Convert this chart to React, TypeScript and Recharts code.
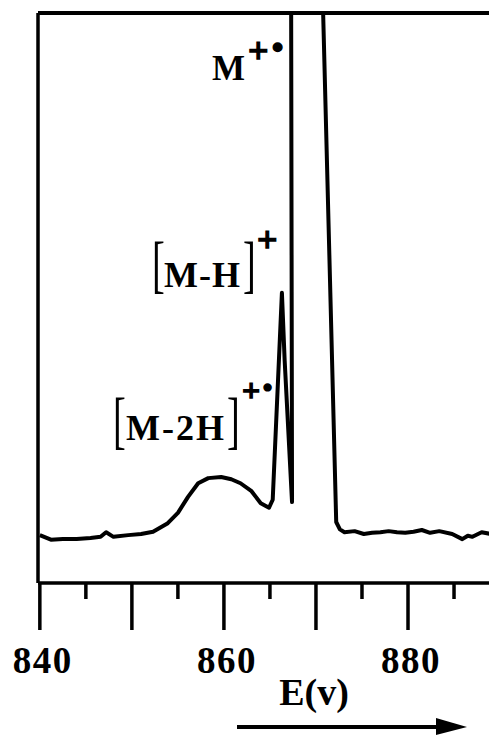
import React from 'react';
import { LineChart, Line, XAxis, YAxis, ReferenceLine } from 'recharts';

// energy (V) and relative intensity; M peak is clipped at the top
const energy = [
  840.0, 841.2, 842.5, 844.0, 845.5, 846.6, 847.2, 848.0, 849.6, 851.0,
  852.3, 853.9, 855.0, 856.1, 857.2, 858.3, 859.7, 860.8, 861.8, 863.0,
  864.0, 864.9, 865.3, 866.3, 866.6, 867.4, 867.3, 870.7, 872.2, 872.6,
  873.1, 874.2, 875.2, 876.1, 877.0, 877.9, 878.8, 879.7, 880.6, 881.5,
  882.4, 883.4, 884.8, 885.9, 886.5, 887.0, 888.0, 889.0,
];
const intensity = [
  8.4, 7.6, 7.7, 7.7, 7.9, 8.1, 8.9, 8.1, 8.4, 8.6,
  9.0, 10.5, 12.3, 15.1, 17.5, 18.4, 18.6, 18.2, 17.5, 16.1,
  14.0, 13.2, 14.6, 50.9, 39.0, 14.2, 105, 105, 10.7, 9.4,
  8.9, 9.1, 8.6, 8.8, 8.9, 9.1, 8.9, 8.8, 9.0, 9.3,
  8.8, 9.1, 8.6, 7.7, 8.3, 8.1, 8.9, 8.6,
];
const tickValues = [840, 845, 850, 855, 860, 865, 870, 875, 880, 885];
const labeledTicks = [840, 860, 880];
const xDomain = [839.8, 888.8];

const trace = energy.map((e, i) => ({ e, v: intensity[i] }));

const serif = '"Liberation Serif", "Times New Roman", serif';

function EnergyTick(props: any) {
  const { x, y, payload } = props;
  const major = payload.value % 10 === 0;
  return (
    <g>
      <line x1={x} x2={x} y1={y} y2={y + (major ? 47 : 16)} stroke="#000" strokeWidth={3.5} />
      {labeledTicks.includes(payload.value) && (
        <text x={x + 3} y={y + 90} textAnchor="middle" fontFamily={serif} fontWeight="bold" fontSize={37} letterSpacing={1.5} fill="#000">
          {payload.value}
        </text>
      )}
    </g>
  );
}

function Bracket({ x, y, ch }: { x: number; y: number; ch: string }) {
  return (
    <text transform={`translate(${x},${y}) scale(0.6,1)`} fontFamily={serif} fontSize={64} fill="#000">
      {ch}
    </text>
  );
}

function Annotations() {
  const lbl = { fontFamily: serif, fontWeight: 'bold' as const, fill: '#000' };
  // superscript charge signs are printed heavier than the letters
  const sup = { ...lbl, stroke: '#000', strokeWidth: 1.4 };
  return (
    <svg width={489} height={735} style={{ position: 'absolute', left: 0, top: 0, pointerEvents: 'none' }}>
      {/* M+. */}
      <text x={212} y={80} fontSize={35} {...lbl}>M</text>
      <text x={248} y={63} fontSize={36} {...sup}>+</text>
      <text x={272} y={58} fontSize={32} {...sup}>•</text>

      {/* [M-H]+ */}
      <Bracket x={152} y={285} ch="[" />
      <text x={164} y={287} fontSize={36} letterSpacing={1} {...lbl}>M-H</text>
      <Bracket x={243} y={285} ch="]" />
      <text x={257} y={252} fontSize={36} {...sup}>+</text>

      {/* [M-2H]+. */}
      <Bracket x={113} y={441} ch="[" />
      <text x={126} y={440} fontSize={36} letterSpacing={2} {...lbl}>M-2H</text>
      <Bracket x={227} y={441} ch="]" />
      <text x={242} y={401} fontSize={32} {...sup}>+</text>
      <text x={263} y={396} fontSize={26} {...sup}>•</text>

      {/* axis title and direction arrow */}
      <text x={314} y={705} textAnchor="middle" fontSize={38} {...lbl}>E(v)</text>
      <line x1={237} x2={440} y1={727} y2={727} stroke="#000" strokeWidth={4} />
      <polygon points="436,718 467,727 436,735" fill="#000" />
    </svg>
  );
}

export default function App() {
  return (
    <div style={{ position: 'absolute', left: 0, top: 0, width: 489, height: 735, background: '#fff', overflow: 'hidden' }}>
      <LineChart width={489} height={735} data={trace} margin={{ top: 13, right: 0, bottom: 0, left: 38 }}>
        <XAxis
          xAxisId="bottom"
          dataKey="e"
          type="number"
          domain={xDomain}
          allowDataOverflow
          ticks={tickValues}
          interval={0}
          tick={(p: any) => <EnergyTick {...p} />}
          tickLine={false}
          tickSize={0}
          tickMargin={0}
          height={152}
          axisLine={{ stroke: '#000', strokeWidth: 3.5 }}
        />
        <YAxis type="number" domain={[0, 100]} allowDataOverflow hide />
        {/* frame: top and left edges */}
        <ReferenceLine xAxisId="bottom" y={100} stroke="#000" strokeWidth={4} />
        <ReferenceLine xAxisId="bottom" x={xDomain[0]} stroke="#000" strokeWidth={3.5} />
        <Line
          xAxisId="bottom"
          dataKey="v"
          type="linear"
          stroke="#000"
          strokeWidth={4}
          strokeLinejoin="round"
          dot={false}
          isAnimationActive={false}
        />
      </LineChart>
      <Annotations />
    </div>
  );
}
